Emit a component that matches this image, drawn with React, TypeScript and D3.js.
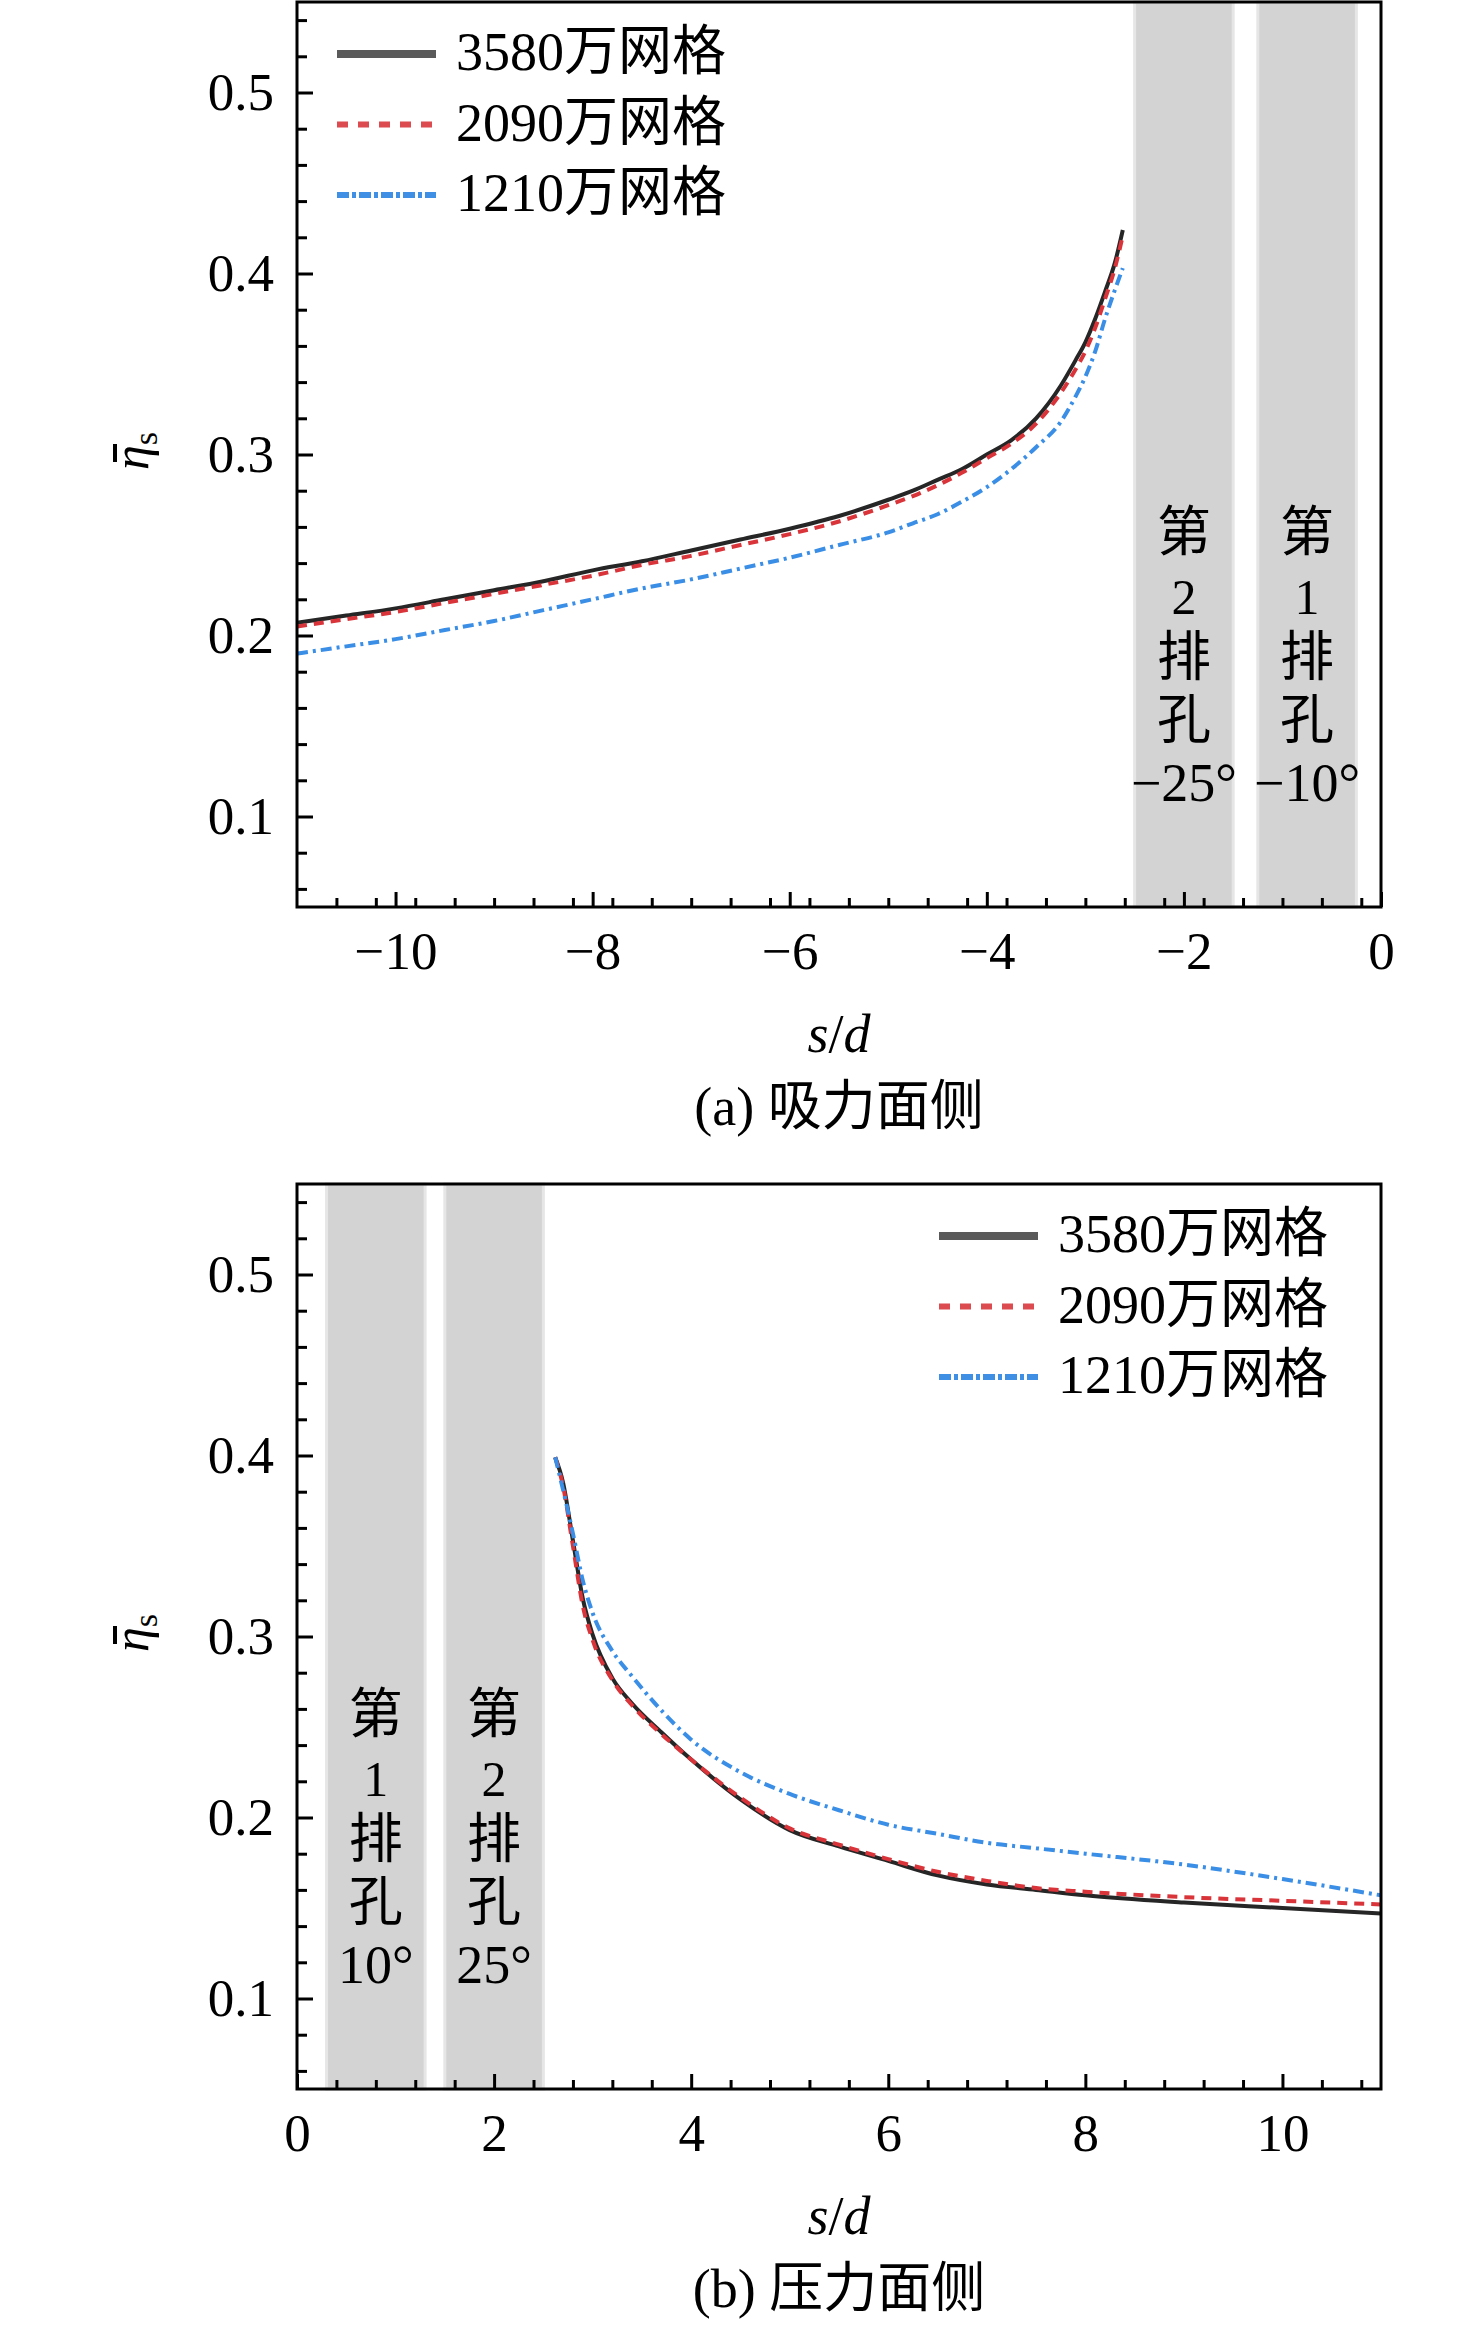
import { useEffect, useRef } from "react"
import * as d3 from "d3"

// (a) suction side, s/d < 0
const suctionX = [-11, -10.5, -10, -9.5, -9, -8.5, -8, -7.5, -7, -6.5, -6, -5.5, -5, -4.75, -4.5, -4.25, -4, -3.75, -3.5, -3.25, -3.1, -3, -2.9, -2.8, -2.7, -2.62]
const suction3580 = [0.207, 0.211, 0.215, 0.22, 0.225, 0.23, 0.236, 0.241, 0.247, 0.253, 0.259, 0.266, 0.275, 0.28, 0.286, 0.292, 0.3, 0.308, 0.32, 0.338, 0.352, 0.362, 0.375, 0.39, 0.406, 0.424]
const suction2090 = [0.205, 0.209, 0.213, 0.218, 0.223, 0.228, 0.233, 0.239, 0.244, 0.25, 0.256, 0.263, 0.272, 0.277, 0.283, 0.29, 0.298, 0.306, 0.317, 0.334, 0.347, 0.357, 0.37, 0.386, 0.403, 0.421]
const suction1210 = [0.19, 0.194, 0.198, 0.203, 0.208, 0.214, 0.22, 0.226, 0.231, 0.237, 0.243, 0.25, 0.257, 0.262, 0.267, 0.274, 0.282, 0.292, 0.304, 0.318, 0.332, 0.343, 0.357, 0.375, 0.391, 0.403]

// (b) pressure side, s/d > 0
const pressureX = [2.62, 2.7, 2.8, 2.9, 3.0, 3.2, 3.4, 3.7, 4.0, 4.5, 5.0, 5.5, 6, 6.5, 7, 7.5, 8, 9, 10, 11]
const pressure3580 = [0.399, 0.385, 0.353, 0.321, 0.301, 0.277, 0.263, 0.247, 0.232, 0.21, 0.193, 0.184, 0.176, 0.168, 0.163, 0.16, 0.157, 0.153, 0.15, 0.147]
const pressure2090 = [0.399, 0.383, 0.35, 0.317, 0.298, 0.276, 0.262, 0.246, 0.232, 0.211, 0.194, 0.185, 0.177, 0.17, 0.165, 0.161, 0.159, 0.156, 0.154, 0.152]
const pressure1210 = [0.399, 0.381, 0.357, 0.331, 0.313, 0.292, 0.278, 0.259, 0.243, 0.225, 0.213, 0.204, 0.196, 0.191, 0.186, 0.183, 0.18, 0.174, 0.166, 0.157]

const seriesLabels = ["3580万网格", "2090万网格", "1210万网格"]
const yTicks = [0.1, 0.2, 0.3, 0.4, 0.5]
const suctionXTicks = [-10, -8, -6, -4, -2, 0]
const pressureXTicks = [0, 2, 4, 6, 8, 10]

const suctionBands = [
  { x0: -2.5, x1: -1.5, lines: ["第", "2", "排", "孔", "−25°"] },
  { x0: -1.25, x1: -0.25, lines: ["第", "1", "排", "孔", "−10°"] },
]
const pressureBands = [
  { x0: 0.3, x1: 1.3, lines: ["第", "1", "排", "孔", "10°"] },
  { x0: 1.5, x1: 2.5, lines: ["第", "2", "排", "孔", "25°"] },
]

const FONT = "'Liberation Serif', 'Times New Roman', 'Noto Sans CJK SC', serif"

const curveStyles = [
  { color: "#262626", dash: null, legendColor: "#5a5a5a", legendDash: null, legendWidth: 8 },
  { color: "#d8343a", dash: "10,7", legendColor: "#dc4b50", legendDash: "11,10", legendWidth: 6 },
  { color: "#3a8ee6", dash: "11,5,3,5", legendColor: "#3f8fe4", legendDash: "12,3,4,3", legendWidth: 6 },
]

function drawPanel(svg: any, opts: any) {
  const { top, xDomain, xs, values, bands, xTicks, legendX, caption } = opts
  const left = 297
  const right = 1381
  const height = 905
  const bottom = top + height

  const x = d3.scaleLinear().domain(xDomain).range([left, right])
  const y = d3.scaleLinear().domain([0.05, 0.55]).range([bottom, top])

  const g = svg.append("g").attr("font-family", FONT)

  // hole bands
  bands.forEach((b: any) => {
    g.append("rect")
      .attr("x", x(b.x0))
      .attr("y", top)
      .attr("width", x(b.x1) - x(b.x0))
      .attr("height", height)
      .attr("fill", "#d3d3d3")
      .attr("stroke", "#e6e6e6")
      .attr("stroke-width", 3)

    const cx = (x(b.x0) + x(b.x1)) / 2
    b.lines.forEach((t: string, i: number) => {
      g.append("text")
        .attr("x", cx)
        .attr("y", top + 549 + i * 62.5)
        .attr("text-anchor", "middle")
        .style("font-size", /^\d$/.test(t) ? "50px" : "54px")
        .text(t)
    })
  })

  // curves
  values.forEach((vals: number[], k: number) => {
    const st = curveStyles[k]
    const line = d3
      .line<number>()
      .x((_, i) => x(xs[i]))
      .y((d) => y(d))
      .curve(d3.curveMonotoneX)
    g.append("path")
      .datum(vals)
      .attr("d", line)
      .attr("fill", "none")
      .attr("stroke", st.color)
      .attr("stroke-width", 4)
      .attr("stroke-dasharray", st.dash)
  })

  // minor ticks
  const xMinor = d3.range(1, 28).map((i) => xDomain[0] + i * 0.4).filter((v) => Math.abs(v / 2 - Math.round(v / 2)) > 0.01 && v < xDomain[1] - 0.01)
  const yMinor = d3.range(3, 28).map((i) => i * 0.02).filter((v) => Math.abs(v * 10 - Math.round(v * 10)) > 0.01)

  const styleAxis = (sel: any) => {
    sel.select(".domain").remove()
    sel.selectAll(".tick line").attr("stroke", "#000").attr("stroke-width", 3)
    sel.selectAll(".tick text").attr("fill", "#000")
    sel.attr("font-family", FONT).attr("font-size", 53)
  }

  g.append("g")
    .attr("transform", `translate(0,${bottom})`)
    .call(d3.axisBottom(x).tickValues(xMinor).tickSize(-9).tickFormat(() => ""))
    .call(styleAxis)
  g.append("g")
    .attr("transform", `translate(${left},0)`)
    .call(d3.axisLeft(y).tickValues(yMinor).tickSize(-10).tickFormat(() => ""))
    .call(styleAxis)
  g.append("g")
    .attr("transform", `translate(0,${bottom})`)
    .call(d3.axisBottom(x).tickValues(xTicks).tickSize(-15).tickPadding(24).tickFormat(d3.format("d")))
    .call(styleAxis)
  g.append("g")
    .attr("transform", `translate(${left},0)`)
    .call(d3.axisLeft(y).tickValues(yTicks).tickSize(-16).tickPadding(23).tickFormat(d3.format(".1f")))
    .call(styleAxis)

  // frame
  g.append("rect")
    .attr("x", left)
    .attr("y", top)
    .attr("width", right - left)
    .attr("height", height)
    .attr("fill", "none")
    .attr("stroke", "#000")
    .attr("stroke-width", 3)

  // legend
  seriesLabels.forEach((label, i) => {
    const st = curveStyles[i]
    const ly = top + 52 + i * 70.5
    g.append("line")
      .attr("x1", legendX)
      .attr("x2", legendX + 99)
      .attr("y1", ly)
      .attr("y2", ly)
      .attr("stroke", st.legendColor)
      .attr("stroke-width", st.legendWidth)
      .attr("stroke-dasharray", st.legendDash)
    g.append("text")
      .attr("x", legendX + 119)
      .attr("y", ly + 16)
      .style("font-size", "54px")
      .text(label)
  })

  // y title
  const yt = g.append("g").attr("transform", `translate(148,${top + 449}) rotate(-90)`)
  const ytxt = yt.append("text").attr("text-anchor", "middle").style("font-size", "50px")
  ytxt.append("tspan").style("font-style", "italic").text("η")
  ytxt.append("tspan").attr("dy", 9).style("font-size", "34px").text("s")
  yt.append("line")
    .attr("x1", -11)
    .attr("x2", 7)
    .attr("y1", -33)
    .attr("y2", -33)
    .attr("stroke", "#000")
    .attr("stroke-width", 4)

  // x title
  const cx = (left + right) / 2
  const xt = g.append("text")
    .attr("x", cx)
    .attr("y", bottom + 145)
    .attr("text-anchor", "middle")
    .style("font-size", "54px")
  xt.append("tspan").style("font-style", "italic").text("s")
  xt.append("tspan").text("/")
  xt.append("tspan").style("font-style", "italic").text("d")

  // caption
  g.append("text")
    .attr("x", cx)
    .attr("y", bottom + 218)
    .attr("text-anchor", "middle")
    .style("font-size", "54px")
    .text(caption)
}

export default function App() {
  const svgRef = useRef<SVGSVGElement>(null)

  useEffect(() => {
    if (!svgRef.current) return
    const svg = d3.select(svgRef.current)
    svg.selectAll("*").remove()

    svg.append("rect").attr("width", 1476).attr("height", 2329).attr("fill", "#fff")

    drawPanel(svg, {
      top: 2,
      xDomain: [-11, 0],
      xs: suctionX,
      values: [suction3580, suction2090, suction1210],
      bands: suctionBands,
      xTicks: suctionXTicks,
      legendX: 337,
      caption: "(a) 吸力面侧",
    })

    drawPanel(svg, {
      top: 1184,
      xDomain: [0, 11],
      xs: pressureX,
      values: [pressure3580, pressure2090, pressure1210],
      bands: pressureBands,
      xTicks: pressureXTicks,
      legendX: 939,
      caption: "(b) 压力面侧",
    })
  }, [])

  return (
    <svg
      ref={svgRef}
      width={1476}
      height={2329}
      style={{ position: "absolute", left: 0, top: 0, display: "block" }}
    />
  )
}
